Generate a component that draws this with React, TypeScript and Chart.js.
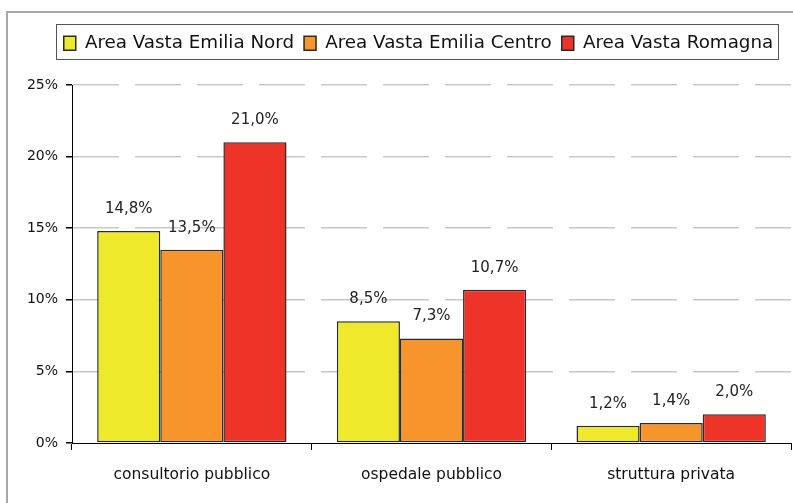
import React, { useEffect, useRef } from "react";
import { Chart, registerables } from "chart.js";

Chart.register(...registerables);

const categories = ["consultorio pubblico", "ospedale pubblico", "struttura privata"];
const seriesNames = ["Area Vasta Emilia Nord", "Area Vasta Emilia Centro", "Area Vasta Romagna"];
const emiliaNord = [14.8, 8.5, 1.2];
const emiliaCentro = [13.5, 7.3, 1.4];
const romagna = [21.0, 10.7, 2.0];
const seriesColors = ["#EFE92B", "#F7952C", "#EE3329"];
const yMin = 0;
const yMax = 25;
const yStep = 5;

const FONT = "'DejaVu Sans', sans-serif";

const framePlugin = {
  id: "frame",
  beforeDraw(chart: any) {
    const ctx = chart.ctx;
    ctx.save();
    ctx.strokeStyle = "#a8a8a8";
    ctx.lineWidth = 2;
    ctx.beginPath();
    ctx.moveTo(7, chart.height + 5);
    ctx.lineTo(7, 12);
    ctx.lineTo(chart.width + 5, 12);
    ctx.stroke();
    ctx.restore();
  },
};

const legendBorderPlugin = {
  id: "legendBorder",
  beforeInit(chart: any) {
    const legend = chart.legend;
    if (legend) {
      const orig = legend.fit;
      legend.fit = function () {
        orig.call(this);
        this.height = 61;
      };
    }
  },
  afterLayout(chart: any) {
    const legend = chart.legend;
    if (legend) {
      legend.left += 46;
    }
  },
  afterDraw(chart: any) {
    const legend = chart.legend;
    if (!legend || !legend.legendHitBoxes || !legend.legendHitBoxes.length) return;
    const boxes = legend.legendHitBoxes;
    let minL = Infinity, maxR = -Infinity;
    boxes.forEach((b: any) => {
      minL = Math.min(minL, b.left);
      maxR = Math.max(maxR, b.left + b.width);
    });
    const ctx = chart.ctx;
    ctx.save();
    ctx.strokeStyle = "#555";
    ctx.lineWidth = 1;
    ctx.strokeRect(Math.round(minL - 8) + 0.5, 24.5, Math.round(maxR - minL + 13), 35);
    ctx.restore();
  },
};

const dataLabelPlugin = {
  id: "dataLabels",
  afterDatasetsDraw(chart: any) {
    const ctx = chart.ctx;
    ctx.save();
    ctx.font = `15px ${FONT}`;
    ctx.fillStyle = "#222";
    ctx.textAlign = "center";
    ctx.textBaseline = "middle";
    chart.data.datasets.forEach((ds: any, i: number) => {
      const meta = chart.getDatasetMeta(i);
      meta.data.forEach((el: any, j: number) => {
        const v = ds.data[j];
        const txt = v.toFixed(1).replace(".", ",") + "%";
        ctx.fillText(txt, el.x, el.y - 22);
      });
    });
    ctx.restore();
  },
};

export default function App() {
  const ref = useRef<HTMLCanvasElement>(null);

  useEffect(() => {
    if (!ref.current) return;
    const seriesData = [emiliaNord, emiliaCentro, romagna];
    const chart = new Chart(ref.current, {
      type: "bar",
      data: {
        labels: categories,
        datasets: seriesNames.map((name, i) => ({
          label: name,
          data: seriesData[i],
          backgroundColor: seriesColors[i],
          borderColor: "#2a2a2a",
          borderWidth: 1.5,
          borderSkipped: false,
          categoryPercentage: 0.79,
          barPercentage: 1,
        })),
      },
      options: {
        animation: false,
        responsive: false,
        devicePixelRatio: 1,
        layout: { padding: { top: 24, left: 0, right: 2, bottom: 0 } },
        plugins: {
          legend: {
            display: true,
            position: "top",
            labels: {
              boxWidth: 12,
              boxHeight: 14,
              padding: 10,
              color: "#111",
              font: { family: FONT, size: 18.3 },
            },
          },
          tooltip: { enabled: false },
        },
        scales: {
          x: {
            afterFit: (s: any) => {
              s.height = 60;
            },
            grid: {
              display: true,
              drawOnChartArea: false,
              offset: true,
              tickLength: 7,
              color: "#000",
              tickColor: "#000",
            },
            border: { display: true, color: "#000", width: 1 },
            ticks: {
              color: "#111",
              padding: 16,
              font: { family: FONT, size: 15.5 },
            },
          },
          y: {
            min: yMin,
            max: yMax,
            afterFit: (s: any) => {
              s.width = 72;
            },
            grid: {
              color: (c: any) => (c.tick && c.tick.value === 0 ? "rgba(0,0,0,0)" : "#c8c8c8"),
              lineWidth: 1.5,
              tickBorderDash: [],
              tickColor: "#000",
              tickLength: 6,
            },
            border: { display: true, color: "#000", width: 1, dash: [46, 16] },
            ticks: {
              stepSize: yStep,
              color: "#111",
              padding: 8,
              font: { family: FONT, size: 14 },
              callback: (v: any) => `${v}%`,
            },
          },
        },
      },
      plugins: [framePlugin, legendBorderPlugin, dataLabelPlugin],
    });
    return () => chart.destroy();
  }, []);

  return (
    <div style={{ position: "absolute", left: 0, top: 0, width: 793, height: 503, background: "#fff" }}>
      <canvas ref={ref} width={793} height={503} style={{ width: 793, height: 503, display: "block" }} />
    </div>
  );
}
